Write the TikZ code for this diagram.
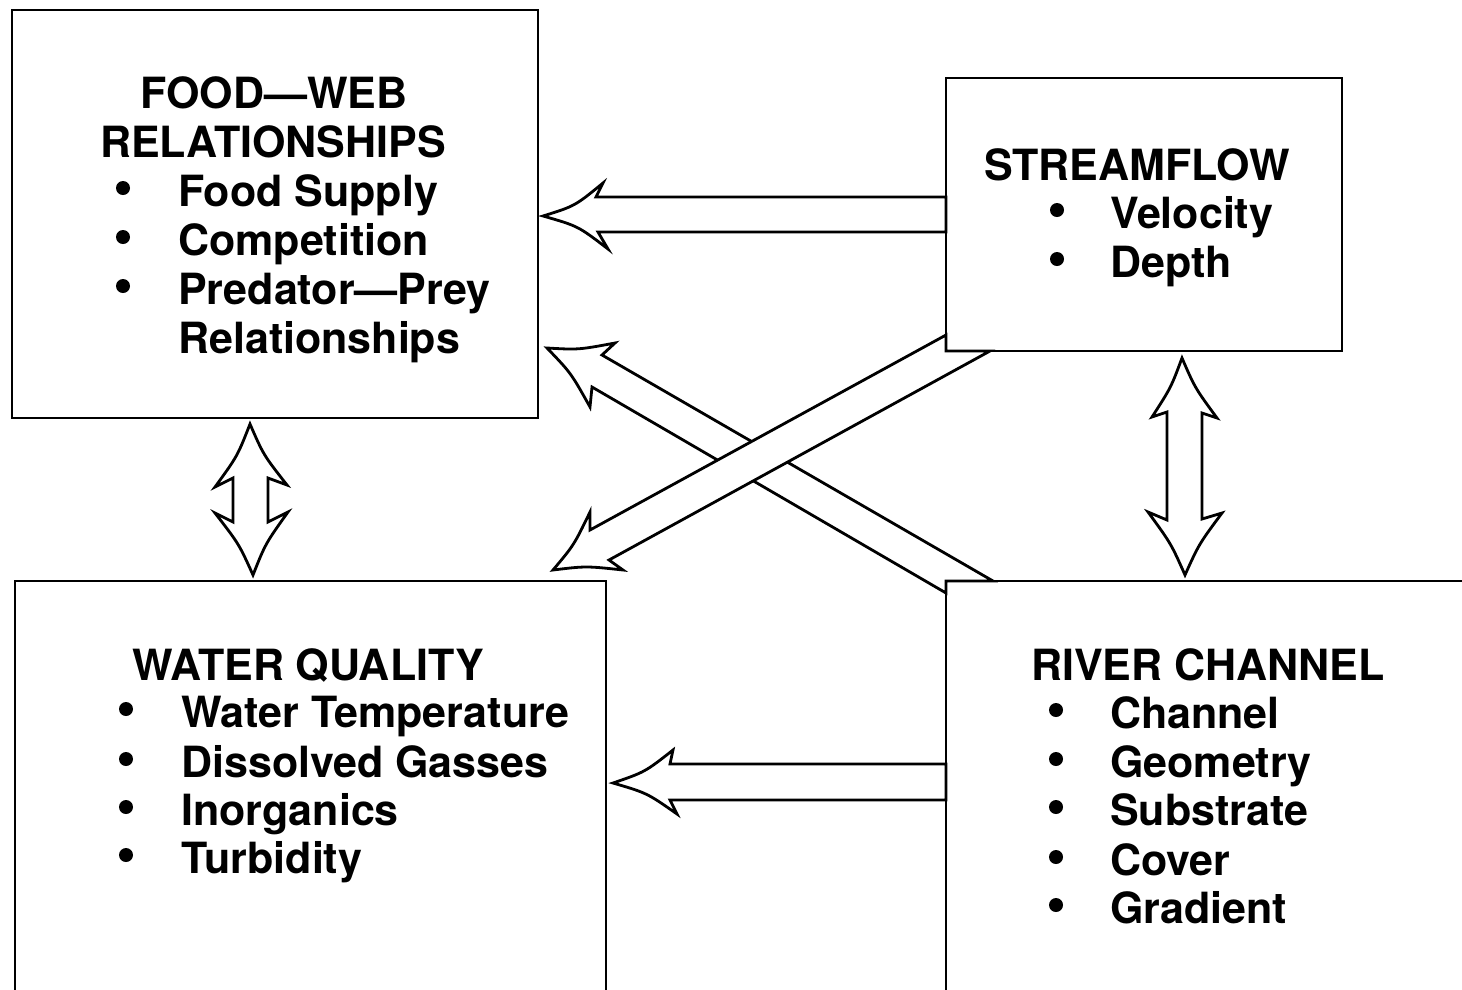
\documentclass[tikz,border=0pt]{standalone}
\usepackage{fontspec}
\setmainfont{TeX Gyre Heros}
\begin{document}
\begin{tikzpicture}[x=1pt,y=-1pt,
  box/.style={draw, line width=2.8pt, inner sep=0pt, outer sep=0pt, anchor=north west},
  hd/.style={font=\fontsize{43}{49}\selectfont\bfseries, inner sep=0pt, anchor=base},
  item/.style={font=\fontsize{43}{49}\selectfont\bfseries, inner sep=0pt, anchor=base west},
  dot/.style={circle, fill=black, inner sep=0pt, minimum size=14pt},
  arr/.style={draw, fill=white, line width=2.8pt, line join=miter, miter limit=20}]
\useasboundingbox (0,0) rectangle (1462,989);
\clip (0,0) rectangle (1462,989);

% boxes
\node[box, minimum width=526pt, minimum height=408pt] (fw) at (12,10) {};
\node[box, minimum width=396pt, minimum height=273pt] (sf) at (946,78) {};
\node[box, minimum width=591pt, minimum height=440pt] (wq) at (15,581) {};
\node[box, minimum width=540pt, minimum height=440pt] (rc) at (946,581) {};

% FOOD-WEB text
\node[hd] (fwh1) at (274,108) {FOOD—WEB};
\node[hd] (fwh2) at (273,157) {RELATIONSHIPS};
\node[dot] (fwd1) at (123,188) {};
\node[dot] (fwd2) at (123,237) {};
\node[dot] (fwd3) at (123,286) {};
\node[item] (fwi1) at (178,206) {Food Supply};
\node[item] (fwi2) at (178,255) {Competition};
\node[item] (fwi3) at (178,304) {Predator—Prey};
\node[item] (fwi4) at (178,353) {Relationships};

% STREAMFLOW text
\node[hd] (sfh) at (1137,180) {STREAMFLOW};
\node[dot] (sfd1) at (1057,210) {};
\node[dot] (sfd2) at (1057,259) {};
\node[item] (sfi1) at (1110,228) {Velocity};
\node[item] (sfi2) at (1110,277) {Depth};

% WATER QUALITY text
\node[hd] (wqh) at (308,680) {WATER QUALITY};
\node[dot] (wqd1) at (126,709) {};
\node[dot] (wqd2) at (126,759) {};
\node[dot] (wqd3) at (126,807) {};
\node[dot] (wqd4) at (126,855) {};
\node[item] (wqi1) at (181,727) {Water Temperature};
\node[item] (wqi2) at (181,777) {Dissolved Gasses};
\node[item] (wqi3) at (181,825) {Inorganics};
\node[item] (wqi4) at (181,873) {Turbidity};

% RIVER CHANNEL text
\node[hd] (rch) at (1208,680) {RIVER CHANNEL};
\node[dot] (rcd1) at (1056,710) {};
\node[dot] (rcd2) at (1056,759) {};
\node[dot] (rcd3) at (1056,807) {};
\node[dot] (rcd4) at (1056,857) {};
\node[dot] (rcd5) at (1056,905) {};
\node[item] (rci1) at (1110,728) {Channel};
\node[item] (rci2) at (1110,777) {Geometry};
\node[item] (rci3) at (1110,825) {Substrate};
\node[item] (rci4) at (1110,875) {Cover};
\node[item] (rci5) at (1110,923) {Gradient};

% arrow: streamflow -> food-web
\draw[arr] (sf.west |- 0,197) -- (596,197) -- (603,183) .. controls (575,206) .. (543,216)
  .. controls (578,226) .. (608,249) -- (598,232) -- (sf.west |- 0,232) -- cycle;

% arrow: river channel -> water quality
\draw[arr] (rc.west |- 0,764) -- (670,764) -- (673,750) .. controls (645,772) .. (613,783)
  .. controls (647,793) .. (677,814) -- (670,800) -- (rc.west |- 0,800) -- cycle;

% arrow: river channel -> food-web (under)
\draw[arr] (993,581) -- (602,355) -- (615,343) .. controls (578.5,349.8) .. (547,348)
  .. controls (571,373) .. (590,407) -- (592,387) -- (rc.west |- 0,593) -- (rc.north west) -- cycle;

% arrow: streamflow -> water quality (over)
\draw[arr] (sf.west |- 0,335) -- (590,530) -- (590,512) .. controls (574,545) .. (553,570)
  .. controls (586,566) .. (623,570) -- (609,560) -- (990,351) -- (sf.south west) -- cycle;

% double arrow: food-web <-> water quality
\draw[arr] (250,424) .. controls (263.5,455) .. (287,485) -- (268,478) -- (268,522) -- (288,512)
  .. controls (265.5,543.5) .. (253,575) .. controls (239,544) .. (215,513) -- (233,522)
  -- (233,478) -- (215,487) .. controls (237.5,456) .. (250,424) -- cycle;

% double arrow: streamflow <-> river channel
\draw[arr] (1182,358) .. controls (1195,388) .. (1217,418) -- (1202,413) -- (1202,519) -- (1222,513)
  .. controls (1199,544) .. (1185,575) .. controls (1171,543.5) .. (1148,512) -- (1167,520)
  -- (1167,412) -- (1152,417) .. controls (1171,387.5) .. (1182,358) -- cycle;
\end{tikzpicture}
\end{document}
